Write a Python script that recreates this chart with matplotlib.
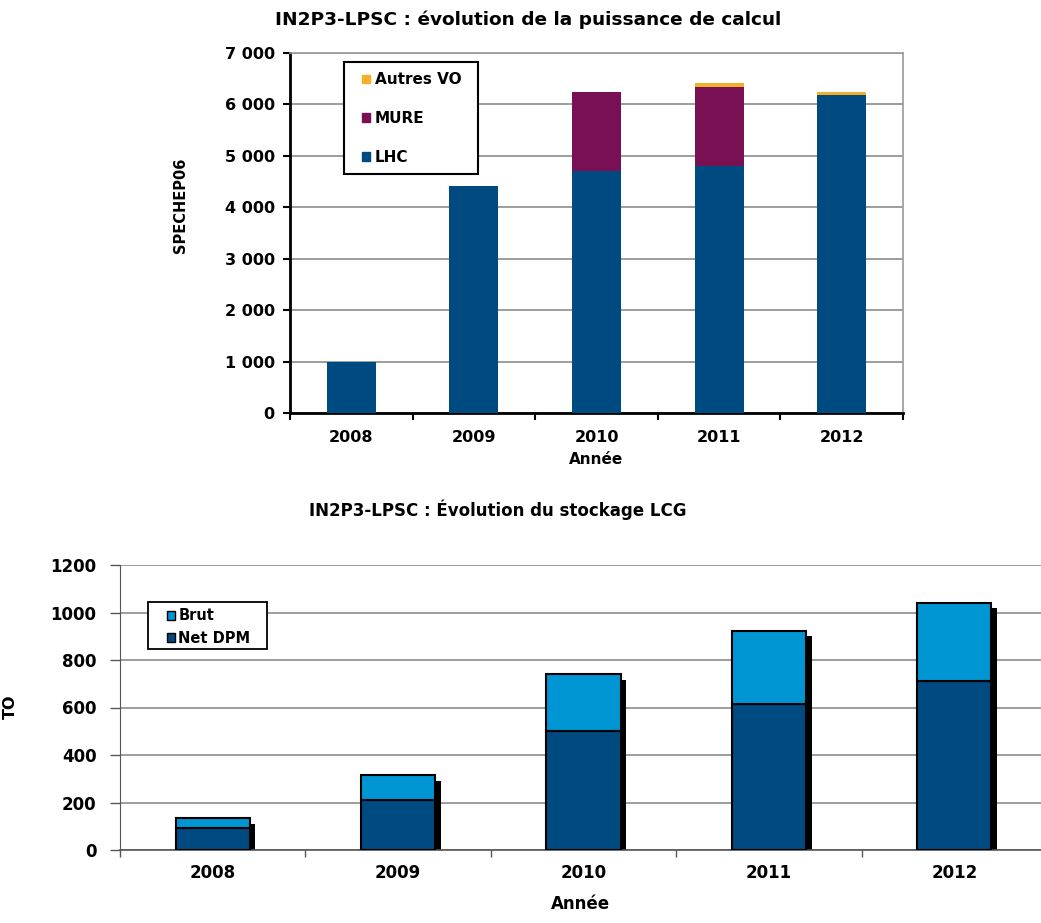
import matplotlib
matplotlib.use("Agg")
import matplotlib.pyplot as plt
from matplotlib.ticker import FuncFormatter, FixedLocator
from matplotlib.patches import Patch, Rectangle
import numpy as np

# Données
years = ["2008", "2009", "2010", "2011", "2012"]
lhc = [990, 4420, 4700, 4810, 6180]
mure = [0, 0, 1550, 1535, 0]
autres_vo = [0, 0, 0, 65, 65]

net_dpm = [91, 210, 501, 616, 712]
brut = [42, 104, 238, 306, 329]

c_lhc = "#004A82"
c_mure = "#7A1054"
c_autres = "#F5B02A"
c_brut = "#0095D3"
c_net = "#004A82"

plt.rcParams["font.family"] = ["DejaVu Sans"]
plt.rcParams["font.weight"] = "bold"

fig = plt.figure(figsize=(10.41, 9.23), dpi=100)
W, H = 1041.0, 923.0

# ---------- chart 1 : puissance de calcul
ax1 = fig.add_axes([290 / W, 1 - 413 / H, 613 / W, 360 / H])
x = np.arange(len(years))
bw = 0.4
ax1.bar(x, lhc, bw, color=c_lhc, zorder=3, label="LHC")
ax1.bar(x, mure, bw, bottom=lhc, color=c_mure, zorder=3, label="MURE")
ax1.bar(x, autres_vo, bw, bottom=np.array(lhc) + np.array(mure),
        color=c_autres, zorder=3, label="Autres VO")
ax1.set_xlim(-0.5, len(years) - 0.5)
ax1.set_ylim(0, 7000)
ax1.set_yticks(np.arange(0, 7001, 1000))
ax1.yaxis.set_major_formatter(FuncFormatter(lambda v, p: f"{int(v):,}".replace(",", " ")))
ax1.yaxis.grid(True, color="#8c8c8c", linewidth=1.2, zorder=0)
ax1.set_xticks(x)
ax1.set_xticklabels(years)
ax1.xaxis.set_minor_locator(FixedLocator(np.arange(-0.5, len(years), 1.0)))
ax1.tick_params(axis="x", which="major", length=0, pad=12, labelsize=11.5)
ax1.tick_params(axis="x", which="minor", length=5, width=1.5, direction="out")
ax1.tick_params(axis="y", length=5, width=1.5, direction="out", labelsize=11.5, pad=6)
for s in ["top", "right"]:
    ax1.spines[s].set_color("#9a9a9a")
    ax1.spines[s].set_linewidth(1.2)
for s in ["left", "bottom"]:
    ax1.spines[s].set_color("black")
    ax1.spines[s].set_linewidth(2)
ax1.text((528 - 290) / 613, 1 + 33 / 360, "IN2P3-LPSC : évolution de la puissance de calcul",
         transform=ax1.transAxes, ha="center", va="center",
         fontsize=13.3, fontweight="bold")
ax1.set_ylabel("SPECHEP06", fontsize=10.5, fontweight="bold")
ax1.yaxis.set_label_coords((188 - 290) / 613, (413 - 205) / 360)
ax1.set_xlabel("Année", fontsize=11, fontweight="bold")
ax1.xaxis.set_label_coords(0.5, -(452 - 413) / 360)
h1 = [Patch(color=c_autres, label="Autres VO"),
      Patch(color=c_mure, label="MURE"),
      Patch(color=c_lhc, label="LHC")]
ax1.add_patch(Rectangle((54 / 613, 239 / 360), 134 / 613, 112 / 360,
                        transform=ax1.transAxes, facecolor="white",
                        edgecolor="black", linewidth=1.5, zorder=4))
leg1 = ax1.legend(handles=h1, loc="upper left",
                  bbox_to_anchor=(72 / 613, (413 - 72.5) / 360),
                  fontsize=11, handlelength=0.5, handleheight=0.5,
                  handletextpad=0.35, labelspacing=1.55, borderpad=0,
                  borderaxespad=0, frameon=False)
leg1.set_zorder(5)
for t in leg1.get_texts():
    t.set_fontweight("bold")

# ---------- chart 2 : stockage LCG
ax2 = fig.add_axes([120 / W, 1 - 850 / H, 927 / W, 285 / H])
total = np.array(net_dpm) + np.array(brut)
ax2.bar(x + 0.03, total - 22, bw, color="black", zorder=2)
ax2.bar(x, net_dpm, bw, color=c_net, edgecolor="black", linewidth=1.5,
        zorder=3, label="Net DPM")
ax2.bar(x, brut, bw, bottom=net_dpm, color=c_brut, edgecolor="black",
        linewidth=1.5, zorder=3, label="Brut")
ax2.set_xlim(-0.5, len(years) - 0.5)
ax2.set_ylim(0, 1200)
ax2.set_yticks(np.arange(0, 1201, 200))
ax2.yaxis.grid(True, color="#8c8c8c", linewidth=1.2, zorder=0)
ax2.set_xticks(x)
ax2.set_xticklabels(years)
ax2.xaxis.set_minor_locator(FixedLocator(np.arange(-0.5, len(years), 1.0)))
ax2.tick_params(axis="x", which="major", length=0, pad=10, labelsize=12)
ax2.tick_params(axis="x", which="minor", length=5, width=1, direction="out",
                color="#555555")
ax2.tick_params(axis="y", length=7, width=1, direction="out", labelsize=12,
                pad=10, color="#555555")
for s in ["top", "right"]:
    ax2.spines[s].set_visible(False)
ax2.spines["left"].set_color("#555555")
ax2.spines["bottom"].set_color("#555555")
ax2.spines["bottom"].set_linewidth(1.2)
ax2.text((498 - 120) / 927, (850 - 510) / 285, "IN2P3-LPSC : Évolution du stockage LCG",
         transform=ax2.transAxes, ha="center", va="center",
         fontsize=12, fontweight="bold")
ax2.set_ylabel("TO", fontsize=11.5, fontweight="bold")
ax2.yaxis.set_label_coords(-(120 - 18) / 927, (850 - 707) / 285)
ax2.set_xlabel("Année", fontsize=12, fontweight="bold")
ax2.xaxis.set_label_coords((580 - 120) / 927, -(895 - 850) / 285)
h2 = [Patch(facecolor=c_brut, edgecolor="black", label="Brut"),
      Patch(facecolor=c_net, edgecolor="black", label="Net DPM")]
ax2.add_patch(Rectangle((28 / 927, 201 / 285), 119 / 927, 47 / 285,
                        transform=ax2.transAxes, facecolor="white",
                        edgecolor="black", linewidth=1.3, zorder=4))
leg2 = ax2.legend(handles=h2, loc="upper left", bbox_to_anchor=(46 / 927, 243 / 285),
                  fontsize=10.5, handlelength=0.55, handleheight=0.55,
                  handletextpad=0.2, labelspacing=0.5, borderpad=0.1,
                  borderaxespad=0, frameon=False)
leg2.set_zorder(5)
for t in leg2.get_texts():
    t.set_fontweight("bold")

fig.savefig("out.png", dpi=100)
